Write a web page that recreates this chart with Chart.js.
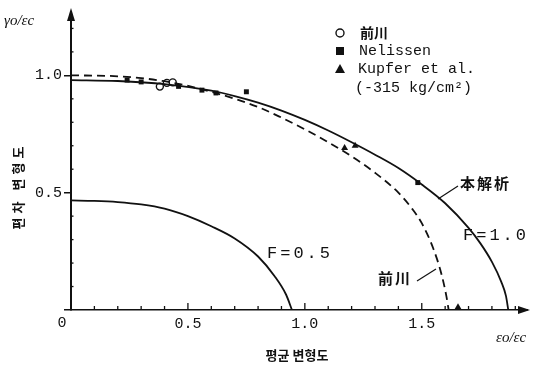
<!DOCTYPE html>
<html><head><meta charset="utf-8">
<script src="https://cdn.jsdelivr.net/npm/chart.js@4/dist/chart.umd.min.js"></script>
<style>html,body{margin:0;padding:0;background:#fff}#wrap{width:543px;height:370px;position:relative}</style>
</head><body><div id="wrap"><canvas id="c"></canvas></div>
<script>
// ---- tick labels ----
const xTickValues = [0.5, 1.0, 1.5];
const xTickLabels = ['0.5', '1.0', '1.5'];
const yTickValues = [0, 0.5, 1.0];
const yTickLabels = ['', '0.5', '1.0'];
const originLabel = '0';
const xMinorTicks = [0.1,0.2,0.3,0.4,0.5,0.6,0.7,0.8,0.9,1.0,1.1,1.2,1.3,1.4,1.5,1.6,1.7,1.8,1.9];
const yMinorTicks = [0.1,0.2,0.3,0.4,0.6,0.7,0.8,0.9,1.1,1.2];

// ---- curves ----
const f10X = [0, 0.2, 0.4, 0.6, 0.7, 0.8, 0.9, 1.0, 1.1, 1.2, 1.3, 1.4, 1.5, 1.6, 1.7, 1.75, 1.8, 1.84, 1.86, 1.87];
const f10Y = [0.98, 0.976, 0.963, 0.935, 0.912, 0.884, 0.85, 0.81, 0.765, 0.715, 0.662, 0.605, 0.535, 0.455, 0.35, 0.285, 0.205, 0.12, 0.06, 0];
const maeCurveX = [0, 0.2, 0.4, 0.6, 0.8, 0.9, 1.0, 1.1, 1.2, 1.3, 1.4, 1.46, 1.5, 1.55, 1.585, 1.605, 1.615];
const maeCurveY = [1.0, 0.996, 0.975, 0.93, 0.865, 0.82, 0.77, 0.715, 0.655, 0.585, 0.5, 0.43, 0.37, 0.26, 0.15, 0.06, 0];
const f05X = [0, 0.1, 0.2, 0.3, 0.4, 0.5, 0.6, 0.7, 0.8, 0.87, 0.92, 0.945];
const f05Y = [0.467, 0.465, 0.46, 0.45, 0.432, 0.4, 0.357, 0.305, 0.228, 0.145, 0.065, 0];

// ---- experimental points ----
const maePtsX = [0.38, 0.41, 0.435];
const maePtsY = [0.952, 0.968, 0.97];
const nelX = [0.24, 0.3, 0.46, 0.56, 0.62, 0.75, 1.483];
const nelY = [0.98, 0.972, 0.953, 0.937, 0.925, 0.93, 0.543];
const kupX = [1.17, 1.215, 1.655];
const kupY = [0.69, 0.70, 0.012];

// ---- texts ----
const yAxisSym = 'γo/εc';
const xAxisSym = 'εo/εc';
const xTitle = '평균 변형도';
const yTitle = '편차 변형도';
const legendLabels = ['前川', 'Nelissen', 'Kupfer et al.', '(-315 kg/cm²)'];
const labF10 = 'F=1.0', labF05 = 'F=0.5', labThis = '本解析', labMae = '前川';

const zip = (xs, ys) => xs.map((x, i) => ({x, y: ys[i]}));
const INK = '#111';
const MONO = '"Liberation Mono","DejaVu Sans Mono",monospace';
const CJK = '"Noto Sans CJK JP","Noto Sans CJK SC",sans-serif';
const KR = '"Noto Sans CJK KR",sans-serif';

const decor = {
  id: 'decor',
  afterDraw(chart) {
    const ctx = chart.ctx, xs = chart.scales.x, ys = chart.scales.y;
    const x0 = xs.getPixelForValue(0), y0 = ys.getPixelForValue(0);
    const ca = chart.chartArea;
    ctx.save();
    ctx.strokeStyle = INK; ctx.fillStyle = INK;
    // x minor ticks (upward)
    ctx.lineWidth = 1.3;
    xMinorTicks.forEach(v => {
      const px = xs.getPixelForValue(v);
      const len = xTickValues.some(t => Math.abs(t - v) < 1e-6) ? 7 : 4;
      ctx.beginPath(); ctx.moveTo(px, y0); ctx.lineTo(px, y0 - len); ctx.stroke();
    });
    // y minor ticks (inward, short)
    yMinorTicks.forEach(v => {
      const py = ys.getPixelForValue(v);
      ctx.beginPath(); ctx.moveTo(x0, py); ctx.lineTo(x0 + 2.5, py); ctx.stroke();
    });
    // arrows
    ctx.beginPath(); ctx.moveTo(x0, ca.top - 4); ctx.lineTo(x0 - 4, ca.top + 9); ctx.lineTo(x0 + 4, ca.top + 9); ctx.closePath(); ctx.fill();
    ctx.beginPath(); ctx.moveTo(ca.right + 3, y0); ctx.lineTo(ca.right - 9, y0 - 4); ctx.lineTo(ca.right - 9, y0 + 4); ctx.closePath(); ctx.fill();

    ctx.textBaseline = 'middle';
    // origin label
    ctx.font = '15px ' + MONO; ctx.textAlign = 'center';
    ctx.fillText(originLabel, x0 - 9, y0 + 13);
    // axis symbols
    ctx.font = 'italic 15px "Liberation Serif",serif'; ctx.textAlign = 'left';
    ctx.fillText(yAxisSym, 4, 21);
    ctx.fillText(xAxisSym, 496, 338);
    // axis titles
    ctx.font = 'bold 13px ' + KR; ctx.textAlign = 'center';
    ctx.fillText(xTitle, 297, 355);
    ctx.save(); ctx.translate(18, 188); ctx.rotate(-Math.PI / 2);
    ctx.letterSpacing = '4px'; ctx.fillText(yTitle, 2, 0); ctx.letterSpacing = '0px'; ctx.restore();

    // legend
    const lx = 340, lys = [33, 51, 69, 88];
    ctx.lineWidth = 1.4;
    ctx.beginPath(); ctx.arc(lx, lys[0], 4, 0, Math.PI * 2); ctx.stroke();
    ctx.fillRect(lx - 4, lys[1] - 4, 8, 8);
    ctx.beginPath(); ctx.moveTo(lx, lys[2] - 5); ctx.lineTo(lx - 5, lys[2] + 4); ctx.lineTo(lx + 5, lys[2] + 4); ctx.closePath(); ctx.fill();
    ctx.textAlign = 'left';
    ctx.font = 'bold 14px ' + CJK; ctx.fillText(legendLabels[0], 360, lys[0]);
    ctx.font = '15px ' + MONO;
    ctx.fillText(legendLabels[1], 359, lys[1]);
    ctx.fillText(legendLabels[2], 358, lys[2]);
    ctx.fillText(legendLabels[3], 355, lys[3]);

    // annotations
    ctx.font = '17px ' + MONO;
    ctx.letterSpacing = '3px';
    ctx.fillText(labF10, 463, 235);
    ctx.fillText(labF05, 267, 253);
    ctx.letterSpacing = '2px';
    ctx.font = 'bold 15px ' + CJK;
    ctx.fillText(labThis, 460, 183);
    ctx.fillText(labMae, 378, 278);
    ctx.letterSpacing = '0px';
    ctx.lineWidth = 1.2;
    ctx.beginPath(); ctx.moveTo(438, 199); ctx.lineTo(458, 186); ctx.stroke();
    ctx.beginPath(); ctx.moveTo(417, 281); ctx.lineTo(436, 269); ctx.stroke();
    ctx.restore();
  }
};

const curve = (data, dash) => ({
  data, showLine: true, pointRadius: 0, borderColor: INK, borderWidth: 1.8,
  borderDash: dash, cubicInterpolationMode: 'monotone', fill: false
});

new Chart(document.getElementById('c'), {
  type: 'scatter',
  data: {
    datasets: [
      curve(zip(f10X, f10Y), []),
      curve(zip(maeCurveX, maeCurveY), [8, 5]),
      curve(zip(f05X, f05Y), []),
      {data: zip(maePtsX, maePtsY), pointStyle: 'circle', pointRadius: 3.5, pointBorderWidth: 1.4,
       pointBorderColor: INK, pointBackgroundColor: '#fff'},
      {data: zip(nelX, nelY), pointStyle: 'rect', pointRadius: 3.5, pointBorderWidth: 0,
       pointBorderColor: INK, pointBackgroundColor: INK},
      {data: zip(kupX, kupY), pointStyle: 'triangle', pointRadius: 4, pointBorderWidth: 0,
       pointBorderColor: INK, pointBackgroundColor: INK}
    ]
  },
  options: {
    responsive: true, maintainAspectRatio: false, animation: false,
    layout: {padding: {top: 12, right: 16, left: 0, bottom: 0}},
    plugins: {legend: {display: false}, tooltip: {enabled: false}},
    scales: {
      x: {
        type: 'linear', min: 0, max: 1.95,
        afterBuildTicks: s => { s.ticks = xTickValues.map(v => ({value: v})); },
        afterFit: s => { s.height = 60; },
        ticks: {callback: (v) => { const i = xTickValues.findIndex(t => Math.abs(t - v) < 1e-6); return i >= 0 ? xTickLabels[i] : ''; },
                color: INK, font: {family: MONO, size: 15}, padding: 5, maxRotation: 0, autoSkip: false},
        grid: {display: false, drawTicks: false, tickLength: 0},
        border: {display: true, color: INK, width: 1.5}
      },
      y: {
        type: 'linear', min: 0, max: 1.27,
        afterBuildTicks: s => { s.ticks = yTickValues.map(v => ({value: v})); },
        afterFit: s => { s.width = 71; },
        ticks: {callback: (v) => { const i = yTickValues.findIndex(t => Math.abs(t - v) < 1e-6); return i >= 0 ? yTickLabels[i] : ''; },
                color: INK, font: {family: MONO, size: 15}, padding: 2, autoSkip: false},
        grid: {display: true, drawOnChartArea: false, drawTicks: true, tickLength: 7, color: INK, lineWidth: 1.5},
        border: {display: true, color: INK, width: 2}
      }
    }
  },
  plugins: [decor]
});
</script></body></html>
